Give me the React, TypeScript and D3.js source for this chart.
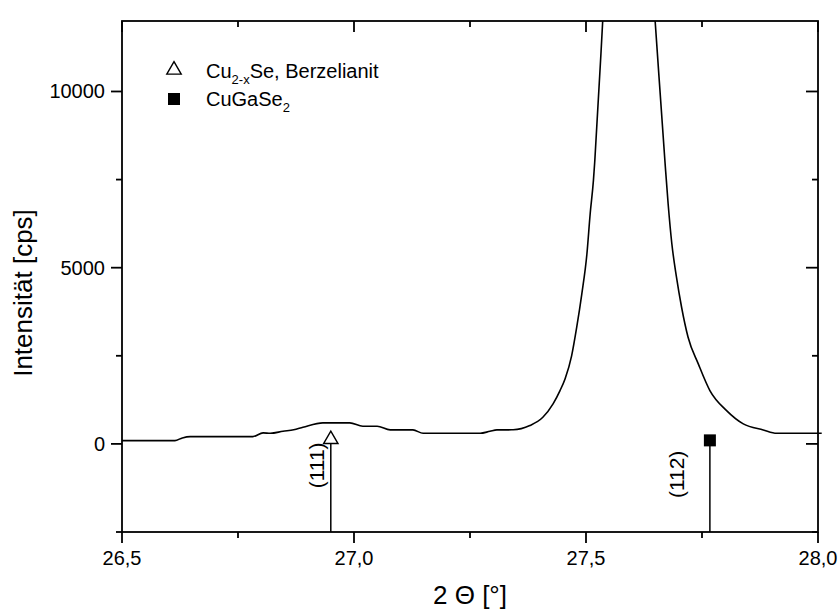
import React from "react";
import * as d3 from "d3";

const twoTheta = [
  26.5, 26.614, 26.63, 26.647, 26.782, 26.804, 26.82, 26.847, 26.87, 26.89, 26.933, 26.991,
  27.019, 27.05, 27.078, 27.127, 27.149, 27.272, 27.293, 27.308, 27.343, 27.379, 27.407,
  27.429, 27.444, 27.455, 27.469, 27.48, 27.491, 27.502, 27.509, 27.516, 27.519, 27.536,
  27.55, 27.57, 27.59, 27.61, 27.63, 27.649, 27.67, 27.677, 27.685, 27.695, 27.706, 27.72,
  27.742, 27.767, 27.803, 27.839, 27.882, 27.911, 28.008,
];
const intensity = [
  94, 94, 170, 207, 207, 312, 300, 358, 400, 471, 596, 596,
  500, 500, 397, 397, 301, 301, 358, 397, 400, 520, 755,
  1136, 1513, 1850, 2500, 3311, 4259, 5395, 6530, 7476, 8041, 12000,
  15500, 18500, 19500, 18500, 15500, 12000, 8041, 6814, 5679, 4733, 3878, 3027,
  2271, 1513, 945, 568, 397, 301, 301,
];

const refPositions = [26.95, 27.767];
const refLabels = ["(111)", "(112)"];
const refSymbols = ["triangle", "square"];
const refTop = 100;

const xMajorTicks = [26.5, 27.0, 27.5, 28.0];
const xMinorTicks = [26.75, 27.25, 27.75];
const yMajorTicks = [0, 5000, 10000];
const yMinorTicks = [-2500, 2500, 7500];

const W = 838;
const H = 610;
const L = 122, R = 818, T = 21, B = 532;
const labelDx = [-14, -33];
const labelDy = [25, 34];

export default function App() {
  const x = d3.scaleLinear().domain([26.5, 28.0]).range([L, R]);
  const y = d3.scaleLinear().domain([-2500, 12000]).range([B, T]);
  const pts = twoTheta.map((t, i) => [t, intensity[i]] as [number, number]);
  const line = d3
    .line<[number, number]>()
    .x((d) => x(d[0]))
    .y((d) => y(d[1]))
    .curve(d3.curveMonotoneX);
  const fmtX = (v: number) => v.toFixed(1).replace(".", ",");
  const font = "Liberation Sans, Arial, sans-serif";
  const sw = 1.8;
  const triPath = d3.symbol(d3.symbolTriangle, 90)();
  return (
    <svg
      width={W}
      height={H}
      style={{ position: "absolute", left: 0, top: 0, background: "#fff" }}
      fontFamily={font}
    >
      <defs>
        <clipPath id="plotclip">
          <rect x={L - 2} y={T} width={R - L + 10} height={B - T} />
        </clipPath>
      </defs>
      <path
        d={line(pts) || ""}
        fill="none"
        stroke="#000"
        strokeWidth={1.6}
        clipPath="url(#plotclip)"
      />
      {refPositions.map((p, i) => (
        <g key={i}>
          <line x1={x(p)} x2={x(p)} y1={y(-2500)} y2={y(refTop)} stroke="#000" strokeWidth={1.5} />
          {refSymbols[i] === "triangle" ? (
            <path
              d={triPath || ""}
              transform={`translate(${x(p)},${y(refTop) - 1})`}
              fill="#fff"
              stroke="#000"
              strokeWidth={1.4}
            />
          ) : (
            <rect x={x(p) - 6} y={y(refTop) - 6} width={12} height={12} fill="#000" />
          )}
          <text
            transform={`translate(${x(p) + labelDx[i]},${y(refTop) + labelDy[i]}) rotate(-90)`}
            textAnchor="middle"
            dominantBaseline="central"
            fontSize={21}
          >
            {refLabels[i]}
          </text>
        </g>
      ))}
      {/* frame */}
      <rect x={L} y={T} width={R - L} height={B - T} fill="none" stroke="#000" strokeWidth={sw} />
      {xMajorTicks.map((t) => (
        <g key={"xb" + t}>
          <line x1={x(t)} x2={x(t)} y1={B} y2={B + 11} stroke="#000" strokeWidth={sw} />
          <line x1={x(t)} x2={x(t)} y1={T} y2={T + 11} stroke="#000" strokeWidth={sw} />
          <text x={x(t)} y={B + 33} textAnchor="middle" fontSize={20}>
            {fmtX(t)}
          </text>
        </g>
      ))}
      {xMinorTicks.map((t) => (
        <g key={"xm" + t}>
          <line x1={x(t)} x2={x(t)} y1={B} y2={B + 6} stroke="#000" strokeWidth={sw} />
          <line x1={x(t)} x2={x(t)} y1={T} y2={T + 6} stroke="#000" strokeWidth={sw} />
        </g>
      ))}
      {yMajorTicks.map((t) => (
        <g key={"yb" + t}>
          <line x1={L - 11} x2={L} y1={y(t)} y2={y(t)} stroke="#000" strokeWidth={sw} />
          <line x1={R - 12} x2={R} y1={y(t)} y2={y(t)} stroke="#000" strokeWidth={sw} />
          <text x={L - 17} y={y(t)} dy="0.35em" textAnchor="end" fontSize={20}>
            {t}
          </text>
        </g>
      ))}
      {yMinorTicks.map((t) => (
        <g key={"ym" + t}>
          <line x1={L - 6} x2={L} y1={y(t)} y2={y(t)} stroke="#000" strokeWidth={sw} />
          <line x1={R - 6} x2={R} y1={y(t)} y2={y(t)} stroke="#000" strokeWidth={sw} />
        </g>
      ))}
      <text x={(L + R) / 2} y={604} textAnchor="middle" fontSize={26}>
        2 Θ [°]
      </text>
      <text transform={`translate(31.5,293) rotate(-90)`} textAnchor="middle" fontSize={26}>
        Intensität [cps]
      </text>
      {/* legend */}
      <path
        d={triPath || ""}
        transform="translate(174,70)"
        fill="#fff"
        stroke="#000"
        strokeWidth={1.4}
      />
      <text x={206} y={78} fontSize={20}>
        Cu
        <tspan fontSize={13} dy={6}>
          2-x
        </tspan>
        <tspan dy={-6}>Se, Berzelianit</tspan>
      </text>
      <rect x={168} y={93} width={12} height={12} fill="#000" />
      <text x={206} y={106} fontSize={20}>
        CuGaSe
        <tspan fontSize={13} dy={6}>
          2
        </tspan>
      </text>
    </svg>
  );
}
